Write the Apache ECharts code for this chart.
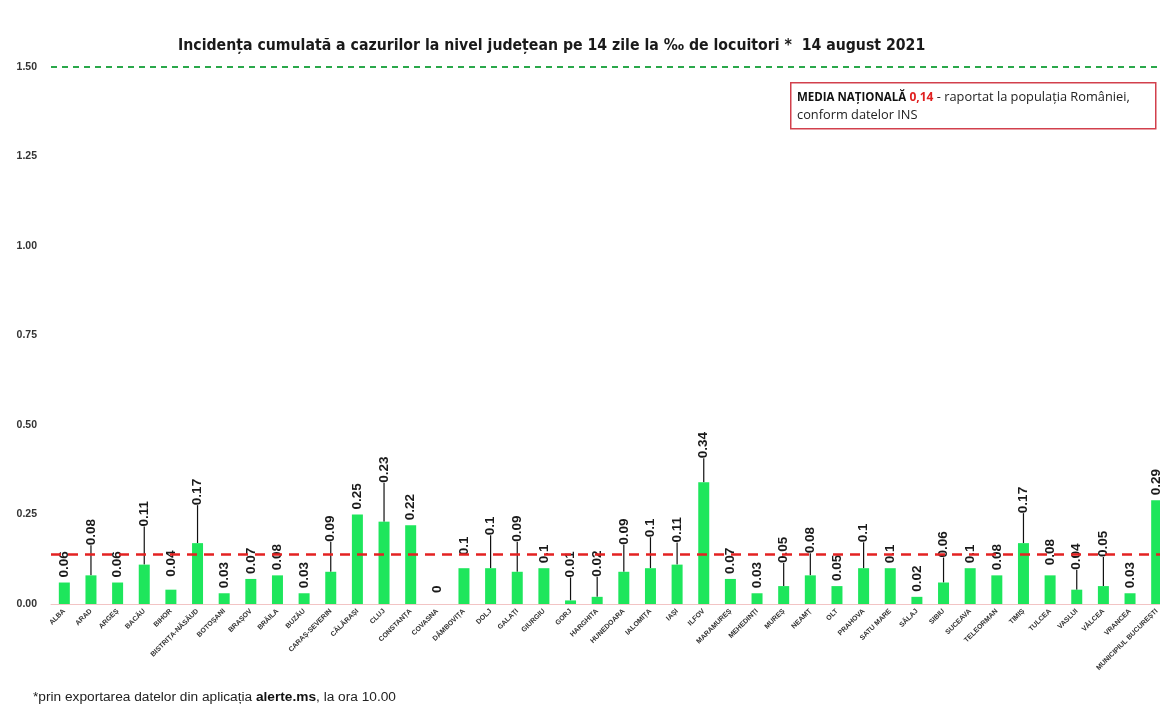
<!DOCTYPE html>
<html>
<head>
<meta charset="utf-8">
<script src="https://cdn.jsdelivr.net/npm/echarts@6/dist/echarts.min.js"></script>
<style>
  html, body { margin: 0; padding: 0; background: #ffffff; overflow: hidden; }
  #incidenta { width: 1160px; height: 704px; }
</style>
</head>
<body>
<div id="incidenta"></div>
<script>
// judete
const judete = [
  "ALBA", "ARAD", "ARGEȘ", "BACĂU", "BIHOR", "BISTRIȚA-NĂSĂUD", "BOTOȘANI", "BRAȘOV",
  "BRĂILA", "BUZĂU", "CARAȘ-SEVERIN", "CĂLĂRAȘI", "CLUJ", "CONSTANȚA", "COVASNA",
  "DÂMBOVIȚA", "DOLJ", "GALAȚI", "GIURGIU", "GORJ", "HARGHITA", "HUNEDOARA",
  "IALOMIȚA", "IAȘI", "ILFOV", "MARAMUREȘ", "MEHEDINȚI", "MUREȘ", "NEAMȚ", "OLT",
  "PRAHOVA", "SATU MARE", "SĂLAJ", "SIBIU", "SUCEAVA", "TELEORMAN", "TIMIȘ", "TULCEA",
  "VASLUI", "VÂLCEA", "VRANCEA", "MUNICIPIUL BUCUREȘTI"
];
// incidenta la mie de locuitori
const incidenta = [
  0.06, 0.08, 0.06, 0.11, 0.04, 0.17, 0.03, 0.07,
  0.08, 0.03, 0.09, 0.25, 0.23, 0.22, 0,
  0.1, 0.1, 0.09, 0.1, 0.01, 0.02, 0.09,
  0.1, 0.11, 0.34, 0.07, 0.03, 0.05, 0.08, 0.05,
  0.1, 0.1, 0.02, 0.06, 0.1, 0.08, 0.17, 0.08,
  0.04, 0.05, 0.03, 0.29
];
const mediaNationala = 0.14;
const pragSus = 1.5;
const yTicks = [0, 0.25, 0.5, 0.75, 1.0, 1.25, 1.5];

// cat de sus sunt mutate etichetele (px), ca in graficul original
const ridicare = [
  0, 25, 0, 33, 8, 33, 0, 0, 0, 0, 25, 0, 34, 0, 6,
  8, 28, 25, 0, 18, 15, 22, 26, 17, 19, 0, 0, 18, 17, 0,
  21, 0, 0, 20, 0, 0, 25, 5, 15, 24, 0, 0
];

const myChart = echarts.init(document.getElementById("incidenta"));

const option = {
  animation: false,
  textStyle: { fontFamily: "Liberation Sans" },
  title: {
    text: "Incidența cumulată a cazurilor la nivel județean pe 14 zile la ‰ de locuitori *  14 august 2021",
    left: 173,
    top: 33,
    textStyle: {
      fontFamily: "Liberation Sans Narrow, DejaVu Sans Condensed",
      fontSize: 15.7,
      fontWeight: "bold",
      color: "#1a1a1a"
    }
  },
  grid: {
    left: 51,
    width: 1119,
    top: 67,
    height: 537,
    outerBoundsMode: "none",
    containLabel: false
  },
  xAxis: {
    type: "category",
    data: judete,
    axisTick: { show: false },
    axisLine: { lineStyle: { color: "#f2c4c4", width: 1 } },
    axisLabel: {
      interval: 0,
      rotate: 45,
      fontSize: 7,
      fontWeight: "bold",
      color: "#333",
      margin: 6
    }
  },
  yAxis: {
    type: "value",
    min: 0,
    max: yTicks[yTicks.length - 1],
    interval: 0.25,
    splitLine: { show: false },
    axisLine: { show: false },
    axisTick: { show: false },
    axisLabel: {
      fontSize: 10.5,
      fontWeight: "bold",
      color: "#333",
      margin: 14,
      formatter: v => v.toFixed(2)
    }
  },
  series: [
    {
      type: "bar",
      barWidth: 11,
      itemStyle: { color: "#1ee65c" },
      data: incidenta.map((v, i) => ({
        value: v,
        labelLine: { show: ridicare[i] > 10 }
      })),
      label: {
        show: true,
        position: "top",
        rotate: 90,
        align: "left",
        verticalAlign: "middle",
        distance: 5,
        fontSize: 13.5,
        fontWeight: "bold",
        color: "#1a1a1a",
        formatter: p => String(p.value)
      },
      labelLine: {
        lineStyle: { color: "#111", width: 1.2 }
      },
      // eticheta e rotita 90 grade, deci axa x locala arata in sus
      labelLayout: p => ({ dx: ridicare[p.dataIndex] }),
      markLine: {
        silent: true,
        symbol: "none",
        label: { show: false },
        data: [
          {
            yAxis: pragSus,
            lineStyle: { color: "#2aa84a", type: [6, 5], width: 2 }
          },
          {
            yAxis: mediaNationala,
            lineStyle: { color: "#e32222", type: [10, 7], width: 2.5 }
          }
        ]
      }
    }
  ],
  graphic: [
    {
      type: "rect",
      left: 790,
      top: 82,
      shape: { width: 365, height: 46 },
      style: { fill: "#ffffff", stroke: "#d2404c", lineWidth: 1.5 }
    },
    {
      type: "text",
      left: 797,
      top: 91,
      style: {
        text: "{b|MEDIA NAȚIONALĂ} {r|0,14} {n|- raportat la populația României,}\n{n|conform datelor INS}",
        rich: {
          b: { fontSize: 11.5, fontWeight: "bold", fill: "#111", fontFamily: "Open Sans", lineHeight: 18 },
          r: { fontSize: 12, fontWeight: "bold", fill: "#e02020", fontFamily: "Open Sans", lineHeight: 18 },
          n: { fontSize: 12.8, fill: "#222", fontFamily: "Open Sans", lineHeight: 18 }
        }
      }
    },
    {
      type: "text",
      left: 33,
      top: 690,
      style: {
        text: "{n|*prin exportarea datelor din aplicația }{b|alerte.ms}{n|, la ora 10.00}",
        rich: {
          n: { fontSize: 13.7, fill: "#222", fontFamily: "Liberation Sans" },
          b: { fontSize: 13.7, fontWeight: "bold", fill: "#111", fontFamily: "Liberation Sans" }
        }
      }
    }
  ]
};

myChart.setOption(option);
window.addEventListener("resize", function () {
  myChart.resize();
});
</script>
</body>
</html>
